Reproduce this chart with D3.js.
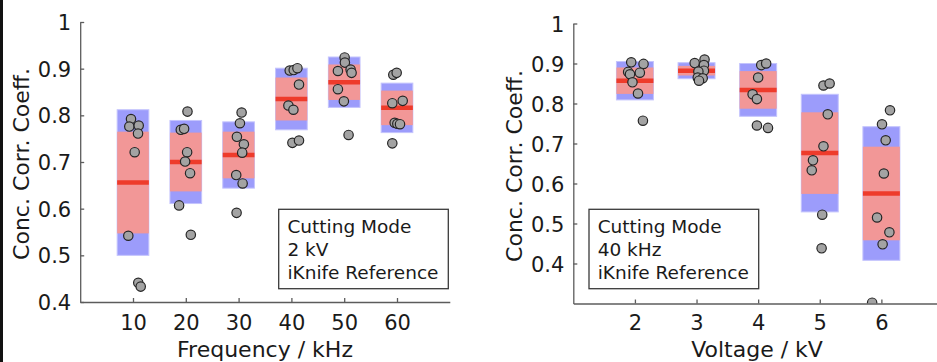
<!DOCTYPE html>
<html>
<head>
<meta charset="utf-8">
<script src="https://cdn.jsdelivr.net/npm/d3@7/dist/d3.min.js"></script>
<style>
  html, body { margin: 0; padding: 0; background: #fff; }
  svg { display: block; font-family: "DejaVu Sans", Verdana, sans-serif; }
</style>
</head>
<body>
<svg id="chart" width="937" height="362"></svg>
<script>
// ---- Frequency series (cutting mode, 2 kV) ----
const freqCategories = [10, 20, 30, 40, 50, 60];
const freqMean   = [0.656, 0.700, 0.715, 0.835, 0.871, 0.816];
const freqCiHalf = [0.109, 0.063, 0.050, 0.046, 0.038, 0.037];
const freqSdHalf = [0.156, 0.089, 0.071, 0.066, 0.054, 0.053];
const freqSampleValues = [
  [0.792, 0.776, 0.778, 0.761, 0.721, 0.542, 0.441, 0.433],
  [0.808, 0.769, 0.771, 0.721, 0.701, 0.676, 0.607, 0.544],
  [0.806, 0.783, 0.754, 0.738, 0.720, 0.672, 0.654, 0.591],
  [0.896, 0.897, 0.901, 0.866, 0.821, 0.812, 0.741, 0.746],
  [0.924, 0.913, 0.895, 0.898, 0.891, 0.856, 0.830, 0.758],
  [0.887, 0.891, 0.826, 0.831, 0.784, 0.782, 0.781, 0.740]
];
// jittered frequency (kHz) at which each sample is plotted
const freqSampleX = [
  [9.62, 9.30, 11.08, 10.95, 10.32, 9.11, 11.00, 11.46],
  [20.32, 19.05, 19.68, 20.25, 19.87, 20.81, 18.73, 20.95],
  [30.57, 30.25, 29.68, 31.00, 30.68, 29.55, 30.76, 29.62],
  [39.68, 40.44, 41.14, 41.44, 39.43, 40.38, 40.19, 41.44],
  [50.08, 50.13, 48.81, 51.21, 51.40, 48.81, 49.94, 50.83],
  [59.30, 59.94, 59.11, 61.08, 59.56, 60.06, 60.57, 59.11]
];
const freqTicks = [10, 20, 30, 40, 50, 60];

// ---- Voltage series (cutting mode, 40 kHz) ----
const voltCategories = [2, 3, 4, 5, 6];
const voltMean   = [0.857, 0.882, 0.834, 0.676, 0.575];
const voltCiHalf = [0.033, 0.012, 0.047, 0.102, 0.117];
const voltSdHalf = [0.048, 0.020, 0.066, 0.147, 0.167];
const voltSampleValues = [
  [0.903, 0.899, 0.879, 0.873, 0.877, 0.853, 0.825, 0.757],
  [0.901, 0.910, 0.896, 0.882, 0.880, 0.865, 0.863, 0.857],
  [0.896, 0.900, 0.865, 0.823, 0.811, 0.745, 0.739],
  [0.845, 0.850, 0.773, 0.693, 0.658, 0.633, 0.522, 0.438],
  [0.783, 0.748, 0.708, 0.625, 0.515, 0.478, 0.448, 0.302]
];
// jittered voltage (kV) at which each sample is plotted
const voltSampleX = [
  [1.94, 2.14, 1.89, 1.92, 2.08, 1.96, 2.05, 2.13],
  [2.97, 3.13, 3.12, 3.12, 3.03, 3.02, 3.10, 3.04],
  [4.05, 4.13, 4.00, 3.91, 3.98, 3.98, 4.16],
  [5.06, 5.16, 5.13, 5.06, 4.89, 4.87, 5.04, 5.03],
  [6.14, 6.01, 6.07, 6.04, 5.93, 6.13, 6.02, 5.85]
];
const voltTicks = [2, 3, 4, 5, 6];

const yTicksLeft  = [0.4, 0.5, 0.6, 0.7, 0.8, 0.9, 1];
const yTicksRight = [0.4, 0.5, 0.6, 0.7, 0.8, 0.9, 1];
const yTitle = "Conc. Corr. Coeff.";

const svg = d3.select("#chart");

// thin dark frame line on the far left edge
svg.append("rect").attr("x", 0).attr("y", 0).attr("width", 3).attr("height", 362).attr("fill", "#111");

const panels = [
  {
    id: "freq",
    cats: freqCategories, mean: freqMean, ci: freqCiHalf, sd: freqSdHalf,
    vals: freqSampleValues, xs: freqSampleX, xTicks: freqTicks,
    xDomain: [0, 70], xRange: [80.2, 449.8],
    yDomain: [0.4, 1], yRange: [302, 22], yTicks: yTicksLeft,
    halfWidth: 3,
    xTitle: "Frequency / kHz", xTitleX: 265,
    yTitleX: 28.5, yTitleY: 164,
    note: ["Cutting Mode", "2 kV", "iKnife Reference"],
    noteBox: { x: 278.7, y: 209.3, w: 169.6, h: 79.4 }
  },
  {
    id: "volt",
    cats: voltCategories, mean: voltMean, ci: voltCiHalf, sd: voltSdHalf,
    vals: voltSampleValues, xs: voltSampleX, xTicks: voltTicks,
    xDomain: [1, 7], xRange: [573.3, 943],
    yDomain: [0.3, 1], yRange: [303.5, 23.5], yTicks: yTicksRight,
    halfWidth: 0.3,
    xTitle: "Voltage / kV", xTitleX: 757,
    yTitleX: 522, yTitleY: 166,
    note: ["Cutting Mode", "40 kHz", "iKnife Reference"],
    noteBox: { x: 589, y: 209.3, w: 169.7, h: 79.4 }
  }
];

const fmtY = d => (d === 1 ? "1" : d3.format(".1f")(d));
const fmtX = d3.format("d");

panels.forEach(p => {
  const x = d3.scaleLinear().domain(p.xDomain).range(p.xRange);
  const y = d3.scaleLinear().domain(p.yDomain).range(p.yRange);
  const g = svg.append("g").attr("class", "panel-" + p.id);

  const clipId = "clip-" + p.id;
  svg.append("defs").append("clipPath").attr("id", clipId)
    .append("rect")
    .attr("x", p.xRange[0]).attr("y", p.yRange[1])
    .attr("width", p.xRange[1] - p.xRange[0])
    .attr("height", p.yRange[0] - p.yRange[1]);

  const plot = g.append("g").attr("clip-path", `url(#${clipId})`);

  const groups = p.cats.map((c, i) => ({
    c, mean: p.mean[i], ci: p.ci[i], sd: p.sd[i],
    pts: p.vals[i].map((v, j) => ({ v, x: p.xs[i][j] }))
  }));

  // standard-deviation band
  plot.selectAll("rect.sd").data(groups).join("rect")
    .attr("class", "sd")
    .attr("x", d => x(d.c - p.halfWidth))
    .attr("width", d => x(d.c + p.halfWidth) - x(d.c - p.halfWidth))
    .attr("y", d => y(d.mean + d.sd))
    .attr("height", d => y(d.mean - d.sd) - y(d.mean + d.sd))
    .attr("fill", "#9c9cfb")
    .attr("stroke", "#c4c4fd").attr("stroke-width", 1);

  // confidence-interval band
  plot.selectAll("rect.ci").data(groups).join("rect")
    .attr("class", "ci")
    .attr("x", d => x(d.c - p.halfWidth))
    .attr("width", d => x(d.c + p.halfWidth) - x(d.c - p.halfWidth))
    .attr("y", d => y(d.mean + d.ci))
    .attr("height", d => y(d.mean - d.ci) - y(d.mean + d.ci))
    .attr("fill", "#f29797");

  // mean line
  plot.selectAll("line.mean").data(groups).join("line")
    .attr("class", "mean")
    .attr("x1", d => x(d.c - p.halfWidth))
    .attr("x2", d => x(d.c + p.halfWidth))
    .attr("y1", d => y(d.mean)).attr("y2", d => y(d.mean))
    .attr("stroke", "#ee3b2b").attr("stroke-width", 4.5);

  // individual samples
  plot.selectAll("g.samples").data(groups).join("g")
    .attr("class", "samples")
    .selectAll("circle").data(d => d.pts).join("circle")
    .attr("cx", d => x(d.x))
    .attr("cy", d => y(d.v))
    .attr("r", 4.7)
    .attr("fill", "#a3a3a3")
    .attr("stroke", "#262626").attr("stroke-width", 1.2);

  // axes
  const axisColor = "#5c5c5c";
  const xAxis = g.append("g")
    .attr("transform", `translate(0,${p.yRange[0]})`)
    .call(d3.axisBottom(x).tickValues(p.xTicks).tickFormat(fmtX).tickSizeInner(-4).tickSizeOuter(0).tickPadding(0));
  const yAxis = g.append("g")
    .attr("transform", `translate(${p.xRange[0]},0)`)
    .call(d3.axisLeft(y).tickValues(p.yTicks).tickFormat(fmtY).tickSizeInner(-4).tickSizeOuter(0).tickPadding(9));

  [xAxis, yAxis].forEach(a => {
    a.select(".domain").attr("stroke", axisColor).attr("stroke-width", 1.3);
    a.selectAll(".tick line").attr("stroke", axisColor).attr("stroke-width", 1.3);
    a.selectAll("text").attr("fill", "#1a1a1a").attr("font-size", 21)
      .attr("font-family", "DejaVu Sans, Verdana, sans-serif");
  });
  xAxis.selectAll(".tick text").attr("dy", null).attr("y", 330 - p.yRange[0]);
  yAxis.selectAll(".tick text").attr("dy", "0.36em");

  // axis titles
  g.append("text")
    .attr("x", p.xTitleX).attr("y", 357)
    .attr("text-anchor", "middle")
    .attr("font-size", 22).attr("fill", "#1a1a1a")
    .text(p.xTitle);
  g.append("text")
    .attr("transform", `translate(${p.yTitleX},${p.yTitleY}) rotate(-90)`)
    .attr("text-anchor", "middle")
    .attr("font-size", 22).attr("fill", "#1a1a1a")
    .text(yTitle);

  // annotation box
  const nb = p.noteBox;
  g.append("rect")
    .attr("x", nb.x).attr("y", nb.y).attr("width", nb.w).attr("height", nb.h)
    .attr("fill", "#fff").attr("stroke", "#3a3a3a").attr("stroke-width", 1.3);
  g.append("text")
    .attr("font-size", 18.5).attr("fill", "#1a1a1a")
    .selectAll("tspan").data(p.note).join("tspan")
    .attr("x", nb.x + 8.7)
    .attr("y", (d, i) => 233.3 + i * 22.6)
    .text(d => d);
});
</script>
</body>
</html>
